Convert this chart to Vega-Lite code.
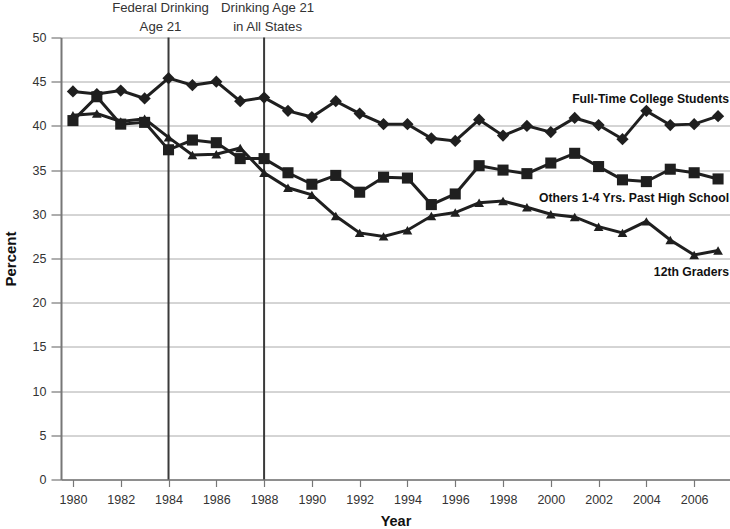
{
  "$schema": "https://vega.github.io/schema/vega-lite/v6.json",
  "width": 669,
  "height": 442,
  "autosize": {"type": "none"},
  "padding": {"left": 61, "top": 37.5, "right": 0, "bottom": 49.5},
  "background": "white",
  "config": {
    "view": {"stroke": null},
    "font": "Liberation Sans, Arial, sans-serif"
  },
  "datasets": {
    "series": [
      {"year": 1980, "series": "Full-Time College Students", "value": 43.9},
      {"year": 1981, "series": "Full-Time College Students", "value": 43.6},
      {"year": 1982, "series": "Full-Time College Students", "value": 44.0},
      {"year": 1983, "series": "Full-Time College Students", "value": 43.1},
      {"year": 1984, "series": "Full-Time College Students", "value": 45.4},
      {"year": 1985, "series": "Full-Time College Students", "value": 44.6},
      {"year": 1986, "series": "Full-Time College Students", "value": 45.0},
      {"year": 1987, "series": "Full-Time College Students", "value": 42.8},
      {"year": 1988, "series": "Full-Time College Students", "value": 43.2},
      {"year": 1989, "series": "Full-Time College Students", "value": 41.7},
      {"year": 1990, "series": "Full-Time College Students", "value": 41.0},
      {"year": 1991, "series": "Full-Time College Students", "value": 42.8},
      {"year": 1992, "series": "Full-Time College Students", "value": 41.4},
      {"year": 1993, "series": "Full-Time College Students", "value": 40.2},
      {"year": 1994, "series": "Full-Time College Students", "value": 40.2},
      {"year": 1995, "series": "Full-Time College Students", "value": 38.6},
      {"year": 1996, "series": "Full-Time College Students", "value": 38.3},
      {"year": 1997, "series": "Full-Time College Students", "value": 40.7},
      {"year": 1998, "series": "Full-Time College Students", "value": 38.9},
      {"year": 1999, "series": "Full-Time College Students", "value": 40.0},
      {"year": 2000, "series": "Full-Time College Students", "value": 39.3},
      {"year": 2001, "series": "Full-Time College Students", "value": 40.9},
      {"year": 2002, "series": "Full-Time College Students", "value": 40.1},
      {"year": 2003, "series": "Full-Time College Students", "value": 38.5},
      {"year": 2004, "series": "Full-Time College Students", "value": 41.7},
      {"year": 2005, "series": "Full-Time College Students", "value": 40.1},
      {"year": 2006, "series": "Full-Time College Students", "value": 40.2},
      {"year": 2007, "series": "Full-Time College Students", "value": 41.1},
      {"year": 1980, "series": "Others 1-4 Yrs. Past High School", "value": 40.6},
      {"year": 1981, "series": "Others 1-4 Yrs. Past High School", "value": 43.3},
      {"year": 1982, "series": "Others 1-4 Yrs. Past High School", "value": 40.2},
      {"year": 1983, "series": "Others 1-4 Yrs. Past High School", "value": 40.4},
      {"year": 1984, "series": "Others 1-4 Yrs. Past High School", "value": 37.3},
      {"year": 1985, "series": "Others 1-4 Yrs. Past High School", "value": 38.4},
      {"year": 1986, "series": "Others 1-4 Yrs. Past High School", "value": 38.1},
      {"year": 1987, "series": "Others 1-4 Yrs. Past High School", "value": 36.3},
      {"year": 1988, "series": "Others 1-4 Yrs. Past High School", "value": 36.3},
      {"year": 1989, "series": "Others 1-4 Yrs. Past High School", "value": 34.7},
      {"year": 1990, "series": "Others 1-4 Yrs. Past High School", "value": 33.4},
      {"year": 1991, "series": "Others 1-4 Yrs. Past High School", "value": 34.4},
      {"year": 1992, "series": "Others 1-4 Yrs. Past High School", "value": 32.5},
      {"year": 1993, "series": "Others 1-4 Yrs. Past High School", "value": 34.2},
      {"year": 1994, "series": "Others 1-4 Yrs. Past High School", "value": 34.1},
      {"year": 1995, "series": "Others 1-4 Yrs. Past High School", "value": 31.1},
      {"year": 1996, "series": "Others 1-4 Yrs. Past High School", "value": 32.3},
      {"year": 1997, "series": "Others 1-4 Yrs. Past High School", "value": 35.5},
      {"year": 1998, "series": "Others 1-4 Yrs. Past High School", "value": 35.0},
      {"year": 1999, "series": "Others 1-4 Yrs. Past High School", "value": 34.6},
      {"year": 2000, "series": "Others 1-4 Yrs. Past High School", "value": 35.8},
      {"year": 2001, "series": "Others 1-4 Yrs. Past High School", "value": 36.9},
      {"year": 2002, "series": "Others 1-4 Yrs. Past High School", "value": 35.4},
      {"year": 2003, "series": "Others 1-4 Yrs. Past High School", "value": 33.9},
      {"year": 2004, "series": "Others 1-4 Yrs. Past High School", "value": 33.7},
      {"year": 2005, "series": "Others 1-4 Yrs. Past High School", "value": 35.1},
      {"year": 2006, "series": "Others 1-4 Yrs. Past High School", "value": 34.7},
      {"year": 2007, "series": "Others 1-4 Yrs. Past High School", "value": 34.0},
      {"year": 1980, "series": "12th Graders", "value": 41.2},
      {"year": 1981, "series": "12th Graders", "value": 41.4},
      {"year": 1982, "series": "12th Graders", "value": 40.5},
      {"year": 1983, "series": "12th Graders", "value": 40.8},
      {"year": 1984, "series": "12th Graders", "value": 38.7},
      {"year": 1985, "series": "12th Graders", "value": 36.7},
      {"year": 1986, "series": "12th Graders", "value": 36.8},
      {"year": 1987, "series": "12th Graders", "value": 37.5},
      {"year": 1988, "series": "12th Graders", "value": 34.7},
      {"year": 1989, "series": "12th Graders", "value": 33.0},
      {"year": 1990, "series": "12th Graders", "value": 32.2},
      {"year": 1991, "series": "12th Graders", "value": 29.8},
      {"year": 1992, "series": "12th Graders", "value": 27.9},
      {"year": 1993, "series": "12th Graders", "value": 27.5},
      {"year": 1994, "series": "12th Graders", "value": 28.2},
      {"year": 1995, "series": "12th Graders", "value": 29.8},
      {"year": 1996, "series": "12th Graders", "value": 30.2},
      {"year": 1997, "series": "12th Graders", "value": 31.3},
      {"year": 1998, "series": "12th Graders", "value": 31.5},
      {"year": 1999, "series": "12th Graders", "value": 30.8},
      {"year": 2000, "series": "12th Graders", "value": 30.0},
      {"year": 2001, "series": "12th Graders", "value": 29.7},
      {"year": 2002, "series": "12th Graders", "value": 28.6},
      {"year": 2003, "series": "12th Graders", "value": 27.9},
      {"year": 2004, "series": "12th Graders", "value": 29.2},
      {"year": 2005, "series": "12th Graders", "value": 27.1},
      {"year": 2006, "series": "12th Graders", "value": 25.4},
      {"year": 2007, "series": "12th Graders", "value": 25.9}
    ],
    "events": [
      {"year": 1984, "note": ["Federal Drinking", "Age 21"]},
      {"year": 1988, "note": ["Drinking Age 21", "in All States"]}
    ]
  },
  "layer": [
    {
      "data": {"name": "series"},
      "mark": {"type": "line", "color": "#1f1f1f", "strokeWidth": 3},
      "encoding": {
        "x": {
          "field": "year", "type": "quantitative",
          "scale": {"domain": [1979.5, 2007.5], "nice": false, "zero": false},
          "axis": {
            "title": "Year",
            "values": [1980,1981,1982,1983,1984,1985,1986,1987,1988,1989,1990,1991,1992,1993,1994,1995,1996,1997,1998,1999,2000,2001,2002,2003,2004,2005,2006,2007],
            "format": "d",
            "labelExpr": "datum.value % 2 === 0 ? datum.label : ''",
            "grid": false,
            "domainColor": "#777", "domainWidth": 1.5,
            "tickColor": "#777", "tickWidth": 1.2, "tickSize": 7,
            "labelPadding": 7, "labelFontSize": 12.5, "labelColor": "#333",
            "labelFlush": false, "labelOverlap": false,
            "titleFontSize": 14.5, "titleFontWeight": "bold", "titleColor": "#111",
            "titleBaseline": "alphabetic", "titleY": 46
          }
        },
        "y": {
          "field": "value", "type": "quantitative",
          "scale": {"domain": [0, 50], "nice": false},
          "axis": {
            "title": "Percent",
            "values": [0,5,10,15,20,25,30,35,40,45,50],
            "grid": true, "gridColor": "#aaa", "gridWidth": 1,
            "domainColor": "#777", "domainWidth": 2,
            "tickColor": "#777", "tickWidth": 1.2, "tickSize": 10,
            "labelPadding": 5, "labelFontSize": 12.5, "labelColor": "#333",
            "titleFontSize": 15, "titleFontWeight": "bold", "titleColor": "#111",
            "titleBaseline": "alphabetic", "titleX": -46
          }
        },
        "detail": {"field": "series"}
      }
    },
    {
      "data": {"name": "events"},
      "mark": {"type": "rule", "color": "#3a3a3a", "strokeWidth": 2},
      "encoding": {
        "x": {"field": "year", "type": "quantitative"},
        "y": {"datum": 0},
        "y2": {"datum": 50}
      }
    },
    {
      "data": {"name": "series"},
      "mark": {"type": "point", "filled": true, "opacity": 1, "color": "#1f1f1f"},
      "encoding": {
        "x": {"field": "year", "type": "quantitative"},
        "y": {"field": "value", "type": "quantitative"},
        "shape": {
          "field": "series", "type": "nominal",
          "scale": {"domain": ["Full-Time College Students", "Others 1-4 Yrs. Past High School", "12th Graders"], "range": ["diamond", "square", "triangle-up"]},
          "legend": null
        },
        "size": {
          "field": "series", "type": "nominal",
          "scale": {"domain": ["Full-Time College Students", "Others 1-4 Yrs. Past High School", "12th Graders"], "range": [150, 95, 200]},
          "legend": null
        }
      }
    },
    {
      "data": {"name": "events"},
      "transform": [{"filter": "datum.year === 1984"}],
      "mark": {"type": "text", "align": "center", "baseline": "alphabetic", "dx": -8, "dy": -25.2, "fontSize": 13.2, "lineHeight": 18.6, "color": "#333"},
      "encoding": {
        "x": {"field": "year", "type": "quantitative"},
        "y": {"datum": 50},
        "text": {"field": "note"}
      }
    },
    {
      "data": {"name": "events"},
      "transform": [{"filter": "datum.year === 1988"}],
      "mark": {"type": "text", "align": "center", "baseline": "alphabetic", "dx": 3.5, "dy": -25.2, "fontSize": 13.2, "lineHeight": 18.6, "color": "#333"},
      "encoding": {
        "x": {"field": "year", "type": "quantitative"},
        "y": {"datum": 50},
        "text": {"field": "note"}
      }
    },
    {
      "data": {"name": "series"},
      "transform": [{"filter": "datum.year === 2007 && datum.series === 'Full-Time College Students'"}],
      "mark": {"type": "text", "align": "right", "baseline": "alphabetic", "dx": 11, "dy": -13.4, "fontSize": 12.2, "fontWeight": "bold", "color": "#111"},
      "encoding": {
        "x": {"field": "year", "type": "quantitative"},
        "y": {"field": "value", "type": "quantitative"},
        "text": {"field": "series"}
      }
    },
    {
      "data": {"name": "series"},
      "transform": [{"filter": "datum.year === 2007 && datum.series === 'Others 1-4 Yrs. Past High School'"}],
      "mark": {"type": "text", "align": "right", "baseline": "alphabetic", "dx": 11, "dy": 22.8, "fontSize": 12.2, "fontWeight": "bold", "color": "#111"},
      "encoding": {
        "x": {"field": "year", "type": "quantitative"},
        "y": {"field": "value", "type": "quantitative"},
        "text": {"field": "series"}
      }
    },
    {
      "data": {"name": "series"},
      "transform": [{"filter": "datum.year === 2007 && datum.series === '12th Graders'"}],
      "mark": {"type": "text", "align": "right", "baseline": "alphabetic", "dx": 11, "dy": 25.5, "fontSize": 12.2, "fontWeight": "bold", "color": "#111"},
      "encoding": {
        "x": {"field": "year", "type": "quantitative"},
        "y": {"field": "value", "type": "quantitative"},
        "text": {"field": "series"}
      }
    }
  ]
}
